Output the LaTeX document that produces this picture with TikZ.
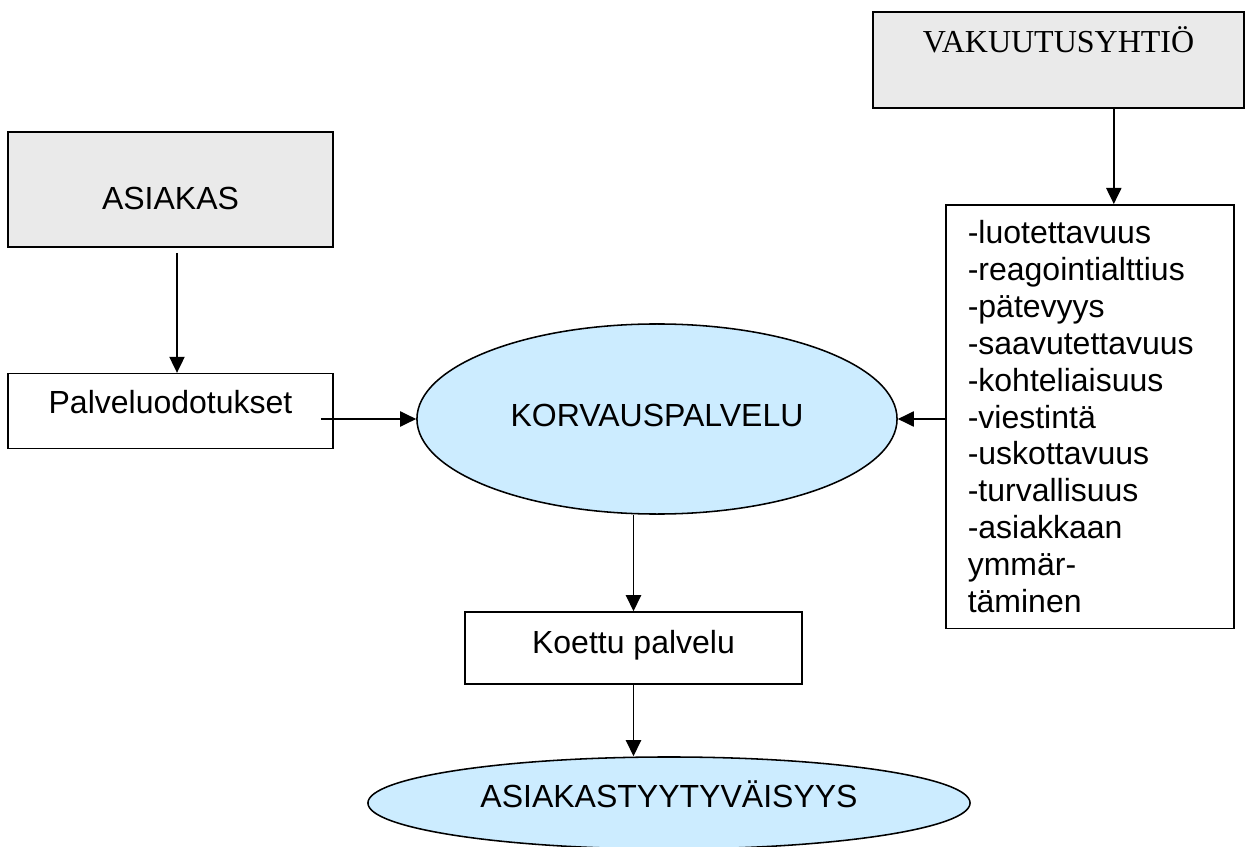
\documentclass[tikz,border=0pt]{standalone}
\usepackage{fontspec}
\setmainfont{Liberation Sans}
\newfontfamily\timesface{Liberation Serif}
\usepackage{tikz}
\usetikzlibrary{positioning,arrows.meta,shapes.geometric}
\definecolor{boxgray}{RGB}{234,234,234}
\definecolor{ovalblue}{RGB}{204,236,255}
\newcommand{\diafont}{\fontsize{22.76pt}{26.18pt}\selectfont}

\begin{document}
\begin{tikzpicture}[x=0.025cm,y=-0.025cm,
    every node/.style={font=\diafont},
    flowbox/.style={draw,line width=1.1pt,inner sep=0pt},
    oval/.style={draw,ellipse,fill=ovalblue,line width=1.1pt,inner sep=0pt},
    arr/.style={-{Triangle[length=0.4cm,width=0.38cm]},line width=1pt}]
      \useasboundingbox (0,0) rectangle (1252,847);
      \node[flowbox,fill=boxgray,minimum width=9.275cm,text height=1.025cm,text depth=1.375cm,font=\diafont\timesface] (vak) at (1058.5,60) {VAKUUTUSYHTIÖ};
      \node[flowbox,fill=boxgray,minimum width=8.125cm,text height=1.925cm,text depth=0.95cm] (asiakas) at (170.5,189.5) {ASIAKAS};
      \node[flowbox,below=3.125cm of asiakas,minimum width=8.125cm,text height=1.0cm,text depth=0.875cm] (palv) {Palveluodotukset};
      \node[oval,minimum width=12cm,minimum height=4.75cm,text height=0.575cm,text depth=0.225cm] (korv) at (657,419) {KORVAUSPALVELU};
      \node[flowbox,anchor=north west,text width=6.1cm,inner xsep=0.55cm,inner ysep=0.4cm,align=left] (lista) at (945,204) {-luotettavuus\\-reagointialttius\\-pätevyys\\-saavutettavuus\\-kohteliaisuus\\-viestintä\\-uskottavuus\\-turvallisuus\\-asiakkaan\\ymmär-\\täminen};
      \node[flowbox,minimum width=8.425cm,text height=1.025cm,text depth=0.775cm] (koettu) at (633.5,648) {Koettu palvelu};
      \node[oval,minimum width=15.05cm,minimum height=2.3cm,text height=0.575cm,text depth=0.375cm] (tyyt) at (669,803) {ASIAKASTYYTYVÄISYYS};
      \draw[arr] ([xshift=0.1625cm,yshift=-0.125cm]asiakas.south) -- ([xshift=0.1625cm]palv.north);
      \draw[arr] ([xshift=-0.325cm]palv.east |- korv.west) -- (korv.west);
      \draw[arr] ([xshift=0.6cm]lista.north |- vak.south) -- ([xshift=0.6cm]lista.north);
      \draw[arr] (lista.west |- korv.east) -- (korv.east);
      \draw[arr] (koettu.north |- korv.south) -- (koettu.north);
      \draw[arr] (koettu.south) -- (koettu.south |- tyyt.north);
    \end{tikzpicture}
\end{document}
